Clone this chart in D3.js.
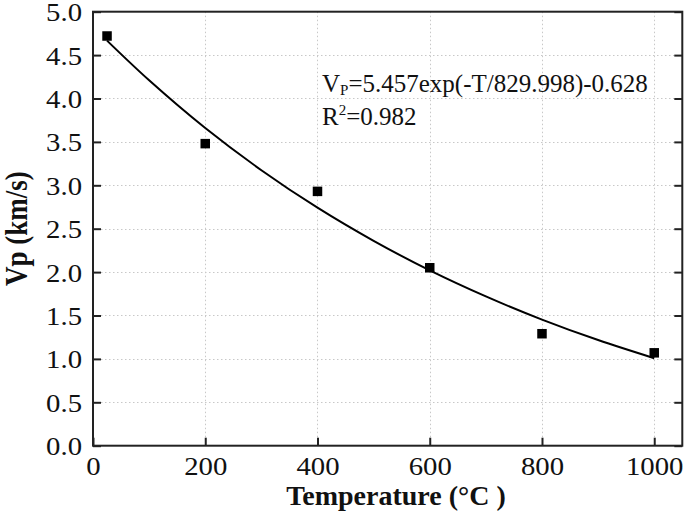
<!DOCTYPE html>
<html>
<head>
<meta charset="utf-8">
<script src="https://cdn.jsdelivr.net/npm/d3@7/dist/d3.min.js"></script>
<style>
  html, body { margin: 0; padding: 0; background: #fff; }
  svg { display: block; }
  svg text { font-family: "Liberation Serif", "Times New Roman", Times, serif !important; fill: #111; }
</style>
</head>
<body>
<svg id="chart" width="685" height="518"></svg>
<script>
// ---- data ----
const temperatures = [25, 200, 400, 600, 800, 1000];
const vpValues = [4.72, 3.48, 2.93, 2.05, 1.29, 1.07];
// fitted curve
const fitT = [25, 100, 200, 300, 400, 500, 600, 700, 800, 900, 1000];
const fitVp = [4.667, 4.21, 3.66, 3.174, 2.742, 2.36, 2.02, 1.72, 1.453, 1.217, 1.008];
const xTicks = [0, 200, 400, 600, 800, 1000];
const yTicks = [0, 0.5, 1, 1.5, 2, 2.5, 3, 3.5, 4, 4.5, 5];
const xTitle = "Temperature (\u00B0C )";
const yTitle = "Vp (km/s)";
const eqMain = ["V", "P", "=5.457exp(-T/829.998)-0.628"];
const eqR2 = ["R", "2", "=0.982"];

const FONT = '"Liberation Serif", "Times New Roman", Times, serif';
const svg = d3.select("#chart");
const L = 93, R = 682.3, T = 11.7, B = 445.7;

const x = d3.scaleLinear().domain([0, 1050]).range([L, R]);
const y = d3.scaleLinear().domain([0, 5]).range([B, T]);

// grid
const grid = svg.append("g").attr("stroke", "#c8c8c8").attr("stroke-width", 1)
  .attr("stroke-dasharray", "1.5,2.5");
grid.selectAll("line.v").data(xTicks.filter(d => d > 0)).join("line")
  .attr("x1", d => Math.round(x(d)) + 0.5).attr("x2", d => Math.round(x(d)) + 0.5)
  .attr("y1", T).attr("y2", B);
grid.selectAll("line.h").data(yTicks.filter(d => d > 0 && d < 5)).join("line")
  .attr("x1", L).attr("x2", R)
  .attr("y1", d => Math.round(y(d)) + 0.5).attr("y2", d => Math.round(y(d)) + 0.5);

// axes
const xAxis = d3.axisBottom(x).tickValues(xTicks).tickSizeInner(-8).tickSizeOuter(0)
  .tickPadding(12).tickFormat(d3.format("d"));
const yAxis = d3.axisLeft(y).tickValues(yTicks).tickSizeInner(-8).tickSizeOuter(0)
  .tickPadding(11).tickFormat(d3.format(".1f"));
const yAxisR = d3.axisRight(y).tickValues(yTicks).tickSizeInner(-8).tickSizeOuter(0)
  .tickFormat("");

const gx = svg.append("g").attr("transform", `translate(0,${B})`).call(xAxis);
const gy = svg.append("g").attr("transform", `translate(${L},0)`).call(yAxis);
const gyr = svg.append("g").attr("transform", `translate(${R},0)`).call(yAxisR);
[gx, gy, gyr].forEach(g => {
  g.attr("font-family", FONT).attr("font-size", 25);
  g.select(".domain").remove();
  g.selectAll(".tick line").attr("stroke", "#222").attr("stroke-width", 2);
  g.selectAll(".tick text").style("font-family", FONT).style("font-size", "25px").attr("fill", "#111");
});
gx.selectAll(".tick text").attr("transform", "scale(1.15,1)");
gy.selectAll(".tick text").attr("dy", "0.36em")
  .attr("transform", "translate(-11,0) scale(1.15,1) translate(11,0)");

// frame
svg.append("rect").attr("x", L).attr("y", T).attr("width", R - L).attr("height", B - T)
  .attr("fill", "none").attr("stroke", "#222").attr("stroke-width", 2);

// fit line
const line = d3.line().x((d, i) => x(fitT[i])).y(d => y(d)).curve(d3.curveCatmullRom);
svg.append("path").datum(fitVp).attr("d", line)
  .attr("fill", "none").attr("stroke", "#000").attr("stroke-width", 2);

// points
const ms = 9.5;
svg.selectAll("rect.pt").data(vpValues).join("rect").attr("class", "pt")
  .attr("x", (d, i) => x(temperatures[i]) - ms / 2).attr("y", d => y(d) - ms / 2)
  .attr("width", ms).attr("height", ms).attr("fill", "#000");

// equation text
const eq = svg.append("text").attr("x", 322).attr("y", 92).style("font-family", FONT).style("font-size", "25px");
eq.append("tspan").text(eqMain[0]);
eq.append("tspan").style("font-size", "15px").attr("dy", 3).text(eqMain[1]);
eq.append("tspan").attr("dy", -3).text(eqMain[2]);
const r2 = svg.append("text").attr("x", 322).attr("y", 125).style("font-family", FONT).style("font-size", "25px");
r2.append("tspan").text(eqR2[0]);
r2.append("tspan").style("font-size", "15px").attr("dy", -10).text(eqR2[1]);
r2.append("tspan").attr("dy", 10).text(eqR2[2]);

// axis titles
svg.append("text").attr("x", 396).attr("y", 505).attr("text-anchor", "middle")
  .style("font-family", FONT).style("font-size", "28px").style("font-weight", "bold").text(xTitle);
svg.append("text").attr("transform", `translate(27,${(T + B) / 2}) rotate(-90) scale(1,1.15)`)
  .attr("text-anchor", "middle").style("font-family", FONT).style("font-size", "27px")
  .style("font-weight", "bold").text(yTitle);
</script>
</body>
</html>
